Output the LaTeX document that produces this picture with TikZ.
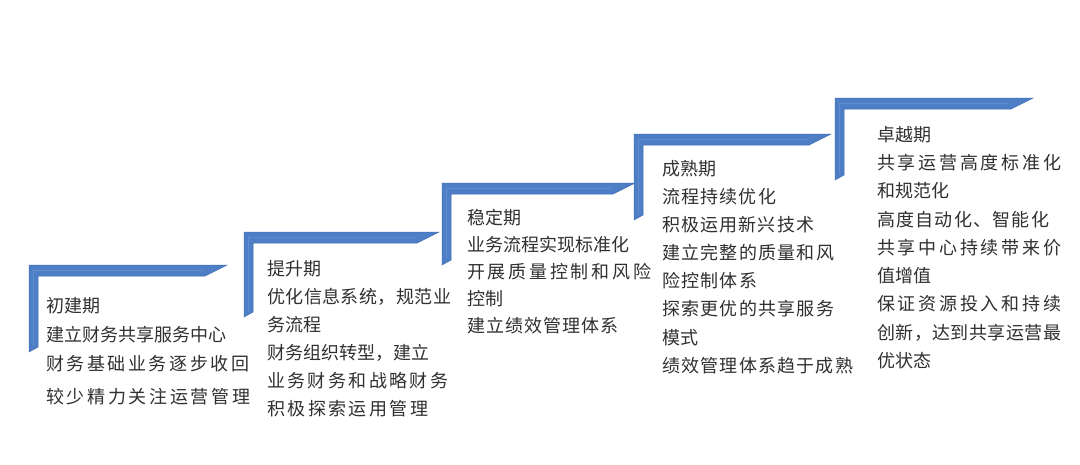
\documentclass[tikz,border=0pt]{standalone}
\usepackage{fontspec}
\newfontfamily\cjk{Noto Sans CJK SC}
\ExplSyntaxOn
\NewDocumentCommand\spreadline{mm}{\hbox_to_wd:nn{#1pt}{\tl_map_inline:nn{#2}{##1\hfil}\unskip}}
\ExplSyntaxOff
\definecolor{stairblue}{HTML}{4D7EC6}
\definecolor{stairedge}{HTML}{3F6DB3}
\definecolor{stairlight}{HTML}{5F8DD0}
\definecolor{txtgray}{HTML}{303030}
\tikzset{
  stairbar/.style={fill=stairblue, draw=stairedge, line width=0.5pt, line join=miter},
  stairhi/.style={draw=stairlight, line width=1.6pt},
  phase/.style={anchor=north west, inner sep=0pt, align=left, text=txtgray, font=\cjk\fontsize{18}{#1}\selectfont},
}
\begin{document}
\begin{tikzpicture}[x=1pt,y=-1pt]
\useasboundingbox[fill=white] (0,0) rectangle (1080,464);
\foreach \xo/\yt/\xt/\yb in {29/265/227/352, 244/232/439/317, 442/183/635/265, 634/134/831/220, 835/98/1033/180}{
  \path[stairbar] (\xo,\yt) -- (\xt,\yt) -- ({\xt-22},{\yt+11}) -- ({\xo+9},{\yt+11}) -- ({\xo+9},{\yb-5}) -- (\xo,\yb) -- cycle;
  \draw[stairhi] ({\xo+4.5},{\yb-6}) -- ({\xo+4.5},{\yt+5.5}) -- ({\xt-24},{\yt+5.5});
}
\node[phase=29] (s1) at (46,297) {初建期\\
建立财务共享服务中心\\
\spreadline{203}{财务基础业务逐步收回}\\[4pt]
\spreadline{204}{较少精力关注运营管理}};
\node[phase=28] (s2) at (267,260) {提升期\\
\spreadline{184}{优化信息系统，规范业}\\
务流程\\
财务组织转型，建立\\
\spreadline{181}{业务财务和战略财务}\\
\spreadline{161}{积极探索运用管理}};
\node[phase=27] (s3) at (467,209) {稳定期\\
业务流程实现标准化\\
\spreadline{184}{开展质量控制和风险}\\
控制\\
\spreadline{151}{建立绩效管理体系}};
\node[phase=28.1] (s4) at (662,160) {成熟期\\
\spreadline{114}{流程持续优化}\\
\spreadline{152}{积极运用新兴技术}\\
\spreadline{172}{建立完整的质量和风}\\
\spreadline{95}{险控制体系}\\
\spreadline{172}{探索更优的共享服务}\\
模式\\
\spreadline{191}{绩效管理体系趋于成熟}};
\node[phase=28.25] (s5) at (877,126) {卓越期\\
\spreadline{184}{共享运营高度标准化}\\
和规范化\\
\spreadline{172}{高度自动化、智能化}\\
\spreadline{184}{共享中心持续带来价}\\
值增值\\
\spreadline{184}{保证资源投入和持续}\\
\spreadline{184}{创新，达到共享运营最}\\
优状态};
\end{tikzpicture}
\end{document}
